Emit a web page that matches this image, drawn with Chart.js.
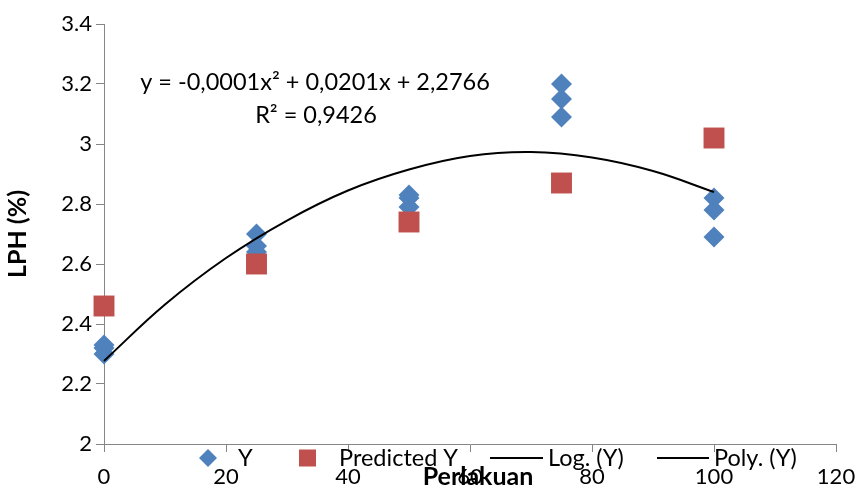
<!DOCTYPE html>
<html>
<head>
<meta charset="utf-8">
<script src="https://cdn.jsdelivr.net/npm/chart.js@4/dist/chart.umd.min.js"></script>
<style>
  html, body { margin: 0; padding: 0; background: #ffffff; }
  #wrap { width: 862px; height: 492px; }
</style>
</head>
<body>
<div id="wrap"><canvas id="c" width="862" height="492"></canvas></div>
<script>
// ---- data ----
const perlakuan = [0, 25, 50, 75, 100];
const yRep1 = [2.33, 2.70, 2.83, 3.20, 2.82];
const yRep2 = [2.32, 2.66, 2.82, 3.15, 2.78];
const yRep3 = [2.30, 2.64, 2.79, 3.09, 2.69];
const predictedY = [2.46, 2.60, 2.74, 2.87, 3.02];
const trendX = [0, 10, 20, 30, 40, 50, 60, 70, 80, 90, 100];
const trendY = [2.277, 2.465, 2.62, 2.745, 2.845, 2.915, 2.96, 2.973, 2.955, 2.91, 2.84];
const equationText = 'y = -0,0001x\u00B2 + 0,0201x + 2,2766';
const r2Text = 'R\u00B2 = 0,9426';
const legendLabels = ['Y', 'Predicted Y', 'Log. (Y)', 'Poly. (Y)'];
const xTitle = 'Perlakuan';
const yTitle = 'LPH (%)';

const BLUE = '#4F81BD';
const RED = '#C0504D';
const AXIS = '#868686';
const FONT = 'Lato';

const yPoints = [];
[yRep1, yRep2, yRep3].forEach(rep => rep.forEach((v, i) => yPoints.push({ x: perlakuan[i], y: v })));
const predPoints = predictedY.map((v, i) => ({ x: perlakuan[i], y: v }));
const trendPoints = trendY.map((v, i) => ({ x: trendX[i], y: v }));

const overlay = {
  id: 'overlay',
  afterDraw(chart) {
    const ctx = chart.ctx;
    ctx.save();
    ctx.fillStyle = '#000';
    ctx.textAlign = 'center';
    ctx.textBaseline = 'middle';
    ctx.font = '23.5px ' + FONT;
    ctx.fillText(equationText, 315, 82);
    ctx.fillText(r2Text, 316, 115);

    // legend (overlapping axis labels, as in the reference)
    const ly = 458;
    ctx.textAlign = 'left';
    ctx.fillStyle = BLUE;
    ctx.beginPath();
    ctx.moveTo(208, ly - 9); ctx.lineTo(217, ly); ctx.lineTo(208, ly + 9); ctx.lineTo(199, ly);
    ctx.closePath(); ctx.fill();
    ctx.fillStyle = '#000';
    ctx.fillText(legendLabels[0], 238, ly);
    ctx.fillStyle = RED;
    ctx.fillRect(299, ly - 8.5, 17, 17);
    ctx.fillStyle = '#000';
    ctx.fillText(legendLabels[1], 339, ly);
    ctx.strokeStyle = '#000';
    ctx.lineWidth = 2;
    ctx.beginPath(); ctx.moveTo(490, ly); ctx.lineTo(543, ly); ctx.stroke();
    ctx.fillText(legendLabels[2], 548, ly);
    ctx.beginPath(); ctx.moveTo(657, ly); ctx.lineTo(709, ly); ctx.stroke();
    ctx.fillText(legendLabels[3], 714, ly);

    // x axis title
    ctx.textAlign = 'center';
    ctx.font = 'bold 25px ' + FONT;
    ctx.fillText(xTitle, 478, 477);
    ctx.restore();
  }
};

new Chart(document.getElementById('c'), {
  type: 'scatter',
  data: {
    datasets: [
      {
        label: legendLabels[3],
        data: trendPoints,
        showLine: true,
        borderColor: '#000',
        borderWidth: 2,
        pointRadius: 0,
        tension: 0.4,
        fill: false,
        clip: false,
        order: 0
      },
      {
        label: legendLabels[1],
        data: predPoints,
        pointStyle: 'rect',
        pointRadius: 14.8,
        backgroundColor: RED,
        borderColor: RED,
        borderWidth: 0,
        clip: false,
        order: 1
      },
      {
        label: legendLabels[0],
        data: yPoints,
        pointStyle: 'rectRot',
        pointRadius: 10.5,
        backgroundColor: BLUE,
        borderColor: BLUE,
        borderWidth: 0,
        clip: false,
        order: 2
      }
    ]
  },
  options: {
    responsive: false,
    animation: false,
    layout: { padding: { left: 0, right: 26, top: 24, bottom: 0 } },
    plugins: { legend: { display: false }, tooltip: { enabled: false } },
    scales: {
      x: {
        type: 'linear',
        min: 0, max: 120,
        ticks: { stepSize: 20, color: '#000', font: { family: FONT, size: 22, lineHeight: 1.9 }, padding: 4, maxRotation: 0 },
        grid: { drawOnChartArea: false, drawTicks: true, tickLength: 8, color: AXIS },
        border: { color: AXIS, width: 1 },
        afterFit(s) { s.height = 48; }
      },
      y: {
        type: 'linear',
        min: 2, max: 3.4,
        ticks: {
          stepSize: 0.2, color: '#000', font: { family: FONT, size: 22 }, padding: 4,
          callback: v => String(Number(v.toFixed(1)))
        },
        grid: { drawOnChartArea: false, drawTicks: true, tickLength: 8, color: AXIS },
        border: { color: AXIS, width: 1 },
        title: { display: true, text: yTitle, color: '#000', font: { family: FONT, size: 25, weight: 'bold' }, padding: { top: 3, bottom: 0 } },
        afterFit(s) { s.width = 104; }
      }
    }
  },
  plugins: [overlay]
});
</script>
</body>
</html>
